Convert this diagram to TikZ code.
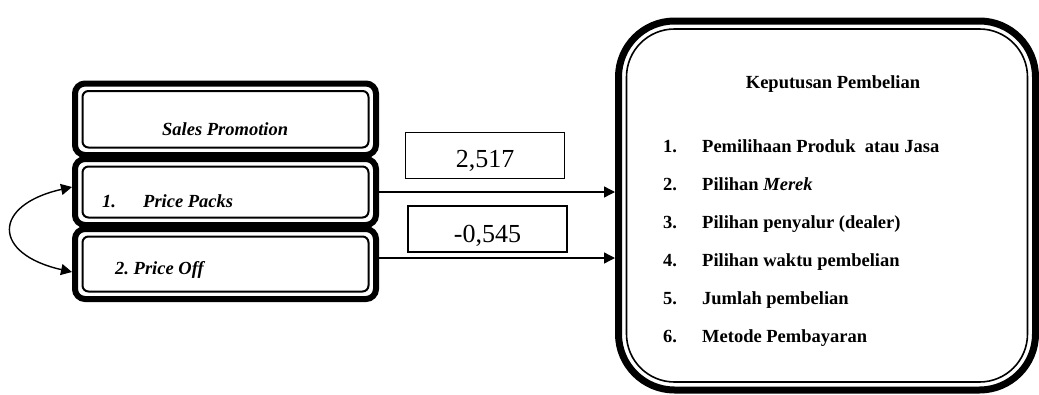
\documentclass[tikz,border=0pt]{standalone}
\usepackage{fontspec}
\setmainfont{Liberation Serif}
\usetikzlibrary{arrows.meta}
\newcommand\innerframe[4]{\draw[line width=#3,rounded corners=#4] ([shift={(#2,-#2)}]#1.north west) rectangle ([shift={(-#2,#2)}]#1.south east);}
\begin{document}
\begin{tikzpicture}[x=1pt,y=-1pt,
  leftbox/.style={draw,line width=6pt,rounded corners=10pt,minimum width=301pt,inner sep=0pt},
  numbox/.style={draw,line width=1.3pt,minimum width=159pt,minimum height=46pt,inner sep=0pt},
  bigbox/.style={draw,line width=7pt,rounded corners=56pt,minimum width=417pt,minimum height=369pt,inner sep=0pt},
  lefttxt/.style={anchor=base west,inner sep=0pt,font=\fontsize{18.5}{22}\selectfont\bfseries\itshape},
  righttxt/.style={anchor=base west,inner sep=0pt,font=\fontsize{18.5}{22}\selectfont\bfseries},
  numtxt/.style={anchor=base,inner sep=0pt,font=\fontsize{26}{30}\selectfont},
  conn/.style={line width=1.4pt,-{Triangle[length=11pt,width=11pt]}},
  bothconn/.style={line width=1.4pt,{Triangle[length=11pt,width=11pt]}-{Triangle[length=11pt,width=11pt]}}
]
\useasboundingbox (0,0) rectangle (1039,394);
% left boxes
\node[leftbox,minimum height=71.5pt] (sp) at (225.5,119.25) {};
\node[leftbox,minimum height=66pt] (pp) at (225.5,192) {};
\node[leftbox,minimum height=70pt] (po) at (225.5,264) {};
\innerframe{sp}{10.5pt}{2pt}{6pt}
\innerframe{pp}{10.5pt}{2pt}{6pt}
\innerframe{po}{10.5pt}{2pt}{6pt}
\node[lefttxt] (tsp) at (162,135) {Sales Promotion};
\node[lefttxt] (tpp1) at (102,207) {1.};
\node[lefttxt] (tpp2) at (143,207) {Price Packs};
\node[lefttxt] (tpo) at (115,274) {2.\ Price Off};
% right box
\node[bigbox] (kp) at (827,205.5) {};
\innerframe{kp}{11.5pt}{1.6pt}{48pt}
\node[righttxt,anchor=base] (title) at (833,88) {Keputusan Pembelian};
\node[righttxt] (n1) at (663,152) {1.};
\node[righttxt] (i1) at (702,152) {Pemilihaan Produk\ \ atau Jasa};
\node[righttxt] (n2) at (663,190) {2.};
\node[righttxt] (i2) at (702,190) {Pilihan \textit{Merek}};
\node[righttxt] (n3) at (663,228) {3.};
\node[righttxt] (i3) at (702,228) {Pilihan penyalur (dealer)};
\node[righttxt] (n4) at (663,266) {4.};
\node[righttxt] (i4) at (702,266) {Pilihan waktu pembelian};
\node[righttxt] (n5) at (663,304) {5.};
\node[righttxt] (i5) at (702,304) {Jumlah pembelian};
\node[righttxt] (n6) at (663,342) {6.};
\node[righttxt] (i6) at (702,342) {Metode Pembayaran};
% coefficient boxes
\node[numbox] (c1) at (485,155.5) {};
\node[numtxt] (c1t) at (485,167) {2,517};
\node[numbox] (c2) at (487.5,229) {};
\node[numtxt] (c2t) at (487.5,242) {-0,545};
% connectors
\draw[conn] (pp.east) -- (pp.east -| kp.west);
\coordinate (po2) at ([yshift=6pt]po.east);
\draw[conn] (po2) -- (po2 -| kp.west);
\draw[bothconn] ([yshift=5pt]pp.west) .. controls +(-80,18) and +(-80,-18) .. ([yshift=-8pt]po.west);
\end{tikzpicture}
\end{document}
